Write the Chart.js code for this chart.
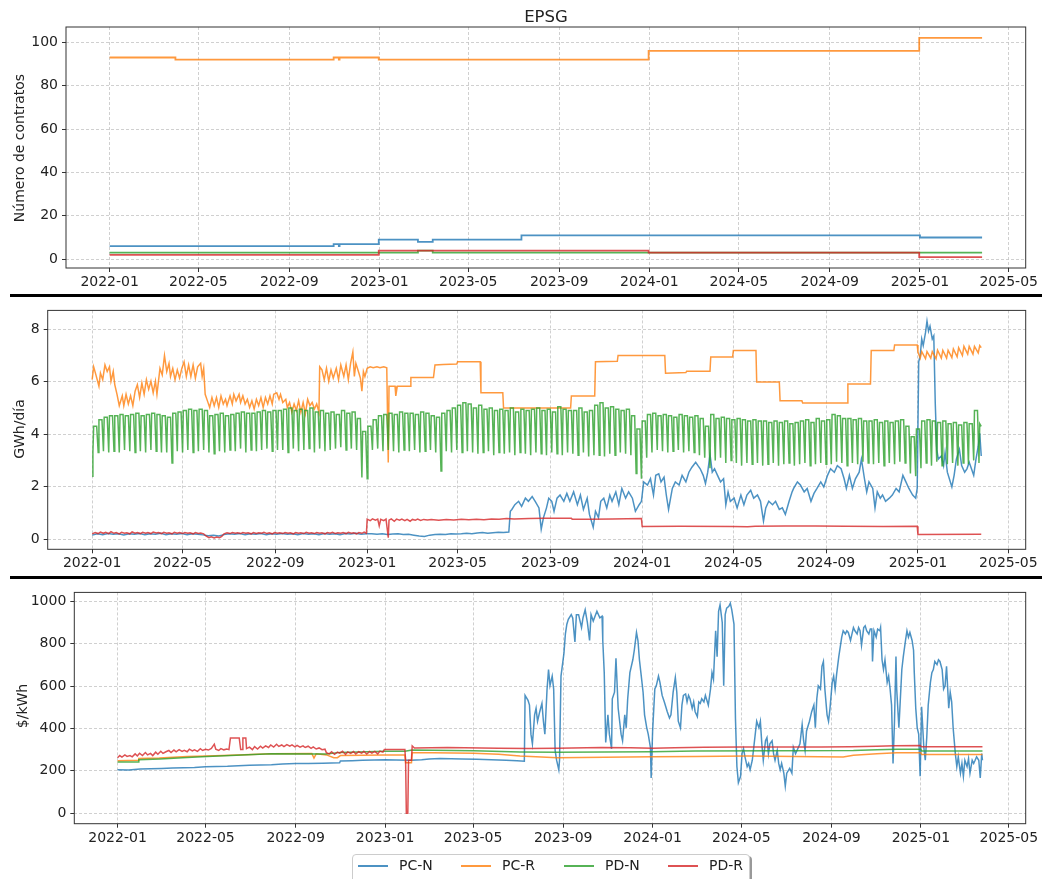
<!DOCTYPE html>
<html>
<head>
<meta charset="utf-8">
<script src="https://cdn.jsdelivr.net/npm/chart.js@4.4.1/dist/chart.umd.min.js"></script>
<style>
  body { margin: 0; background: #fff; font-family: 'DejaVu Sans', sans-serif; color: #222; }
  #hoja { position: relative; width: 1042px; height: 879px; overflow: hidden; }
  canvas { position: absolute; left: 0; }
  .sep { position: absolute; left: 10px; width: 1032px; height: 3px; background: #000; }
  .txt { position: absolute; white-space: nowrap; font-size: 14px; transform: translate(-50%, -50%); }
  .rot { transform: translate(-50%, -50%) rotate(-90deg); }
  #leyenda { position: absolute; left: 352px; top: 854px; width: 396px; height: 40px;
             border: 1px solid #ccc; border-radius: 4px; box-shadow: 2px 2px 0 #999; background: #fff; }
  .lin { position: absolute; height: 2px; width: 30px; }
</style>
</head>
<body>
<div id="hoja">
  <canvas id="g1" width="1042" height="290" style="top:0"></canvas>
  <canvas id="g2" width="1042" height="276" style="top:298px"></canvas>
  <canvas id="g3" width="1042" height="299" style="top:580px"></canvas>
  <div class="sep" style="top:294px"></div>
  <div class="sep" style="top:576px"></div>
  <div class="txt" style="left:546px;top:16px;font-size:16.5px">EPSG</div>
  <div class="txt rot" style="left:19px;top:148px">Número de contratos</div>
  <div class="txt rot" style="left:19px;top:429px">GWh/día</div>
  <div class="txt rot" style="left:22px;top:706px">$/kWh</div>
  <div id="leyenda"></div>
</div>
<script>
// x = días desde 2022-01-01
const diasTicks = [0, 120, 243, 365, 485, 608, 730, 851, 974, 1096, 1216];
const etiquetasTicks = ['2022-01', '2022-05', '2022-09', '2023-01', '2023-05', '2023-09',
  '2024-01', '2024-05', '2024-09', '2025-01', '2025-05'];
const series = ['PC-N', 'PC-R', 'PD-N', 'PD-R'];
const colores = ['31,119,180', '255,127,14', '44,160,44', '214,39,40'];

// Número de contratos (escalones)
const pcnContratos = [[0, 6], [303, 7], [310, 6], [311, 7], [364, 9], [417, 8], [437, 9], [557, 11], [1096, 10], [1180, 10]];
const pcrContratos = [[0, 93], [89, 92], [303, 93], [310, 92], [311, 93], [364, 92], [729, 96], [1095, 102], [1180, 102]];
const pdnContratos = [[0, 3], [417, 4], [437, 3], [1180, 3]];
const pdrContratos = [[0, 2], [364, 4], [729, 3], [1095, 1], [1180, 1]];

// Energía GWh/día
const pcnEnergia = [[0,0.15],[7,0.2],[14,0.17],[21,0.21],[28,0.18],[35,0.2],[42,0.16],[49,0.2],[56,0.18],[63,0.21],[70,0.17],[77,0.2],[84,0.18],[91,0.22],[98,0.17],[105,0.2],[112,0.18],[119,0.21],[126,0.17],[133,0.2],[140,0.18],[147,0.16],[154,0.13],[161,0.15],[168,0.12],[175,0.17],[182,0.2],[189,0.18],[196,0.21],[203,0.17],[210,0.2],[217,0.18],[224,0.21],[231,0.17],[238,0.2],[245,0.18],[252,0.21],[259,0.18],[266,0.2],[273,0.17],[280,0.21],[287,0.18],[294,0.2],[301,0.17],[308,0.21],[315,0.18],[322,0.2],[329,0.17],[336,0.21],[343,0.19],[350,0.22],[357,0.18],[364,0.2],[371,0.2],[378,0.18],[385,0.2],[392,0.17],[399,0.19],[406,0.2],[413,0.17],[420,0.18],[427,0.15],[434,0.12],[441,0.1],[448,0.15],[455,0.17],[462,0.18],[469,0.17],[476,0.2],[483,0.19],[490,0.2],[497,0.22],[504,0.2],[511,0.23],[518,0.25],[525,0.22],[532,0.24],[539,0.26],[546,0.25],[553,0.27],
  [555,1.06],[557,1.13],[561,1.31],[566,1.44],[570,1.25],[575,1.56],[579,1.44],[584,1.62],[588,1.44],[593,1.19],[596,0.38],[599,0.82],[603,1.19],[606,1.56],[610,1.44],[613,1.06],[617,1.56],[621,1.68],[626,1.44],[630,1.74],[634,1.44],[639,1.8],[644,1.31],[648,1.68],[652,1.13],[657,1.56],[660,0.94],[665,0.45],[668,1.06],[672,0.82],[675,1.44],[679,1.56],[683,1.19],[687,1.68],[690,1.44],[695,1.8],[699,1.31],[703,1.93],[708,1.56],[712,1.8],[717,1.56],[721,1.06],[726,1.31],[729,1.44],[732,2.18],[737,2.06],[741,2.3],[745,1.68],[748,2.43],[752,2.49],[755,2.18],[759,2.36],[762,1.68],[765,1.13],[770,1.93],[774,2.18],[779,2.06],[783,2.43],[788,2.18],[792,2.55],[796,2.74],[801,2.93],[804,2.8],[807,2.68],[811,2.43],[814,2.12],[817,2.55],[820,3.23],[823,2.55],[826,2.68],[830,2.43],[834,2.18],[838,2.3],[841,1.31],[844,1.8],[847,1.44],[852,1.56],[856,1.19],[861,1.68],[865,1.31],[869,1.68],[874,1.86],[878,1.56],[883,1.68],[887,1.44],[891,0.69],[894,1.19],[898,1.44],[903,1.31],[907,1.44],[912,1.13],[916,1.19],[920,0.94],[925,1.44],[929,1.8],[931,1.93],[936,2.18],[940,2.06],[945,1.8],[949,1.93],[954,1.44],[958,1.74],[962,1.93],[967,2.18],[971,1.99],[976,2.43],[980,2.68],[985,2.55],[989,2.8],[994,2.68],[998,2.3],[1001,1.93],[1005,2.43],[1009,1.93],[1013,2.3],[1018,2.55],[1021,3.05],[1025,2.3],[1028,1.8],[1031,2.18],[1036,1.93],[1039,1.19],[1042,1.8],[1046,1.56],[1049,1.68],[1053,1.44],[1058,1.56],[1062,1.68],[1067,1.93],[1071,1.8],[1076,2.43],[1080,2.18],[1084,1.93],[1089,1.68],[1093,1.56],[1095,1.93],[1097,6.76],[1099,7.0],[1101,7.63],[1103,7.38],[1106,7.87],[1108,8.31],[1110,7.93],[1112,8.12],[1115,7.63],[1117,7.75],[1119,5.15],[1121,3.42],[1123,3.05],[1127,3.17],[1130,2.8],[1132,3.3],[1135,2.55],[1139,2.18],[1141,1.99],[1144,2.43],[1147,3.05],[1151,3.42],[1154,2.8],[1158,2.55],[1161,2.68],[1164,2.93],[1167,2.68],[1170,2.43],[1173,3.05],[1176,3.54],[1178,4.03],[1180,3.17]];

const pcrEnergia = [[0,6.08],[2,6.57],[5,6.26],[9,5.83],[11,6.33],[14,6.08],[17,6.64],[20,6.39],[23,6.57],[25,6.02],[28,6.39],[30,5.89],[33,5.52],[36,5.09],[40,5.46],[42,5.09],[45,5.52],[48,5.15],[51,5.46],[54,5.09],[57,5.64],[60,5.89],[63,5.4],[66,5.95],[69,5.52],[72,6.08],[75,5.71],[78,6.02],[81,5.58],[84,6.02],[86,5.52],[90,6.51],[93,6.26],[96,7.0],[99,6.39],[102,6.7],[104,6.2],[107,6.51],[110,6.08],[113,6.45],[116,6.14],[119,6.51],[122,6.76],[125,6.2],[128,6.64],[131,6.2],[134,6.64],[137,6.14],[140,6.57],[144,6.7],[146,6.2],[148,6.51],[150,5.52],[153,5.27],[156,5.02],[159,5.4],[162,5.09],[165,5.4],[168,5.02],[171,5.46],[174,5.15],[177,5.33],[179,5.09],[183,5.46],[186,5.15],[188,5.52],[191,5.27],[195,5.52],[197,5.21],[200,5.46],[203,5.15],[206,5.33],[209,5.02],[212,5.27],[215,4.96],[218,5.33],[221,5.09],[224,5.4],[227,5.02],[230,5.4],[233,5.15],[236,5.46],[239,5.15],[241,5.52],[245,5.58],[248,5.33],[250,5.52],[253,5.21],[257,5.33],[259,5.02],[262,5.21],[265,4.84],[268,5.15],[271,4.9],[274,5.27],[277,4.84],[280,5.21],[283,4.78],[286,5.33],[289,5.09],[292,5.21],[295,4.96],[298,5.15],[301,4.84],[302,6.57],[305,6.45],[308,6.08],[311,6.51],[314,6.02],[317,6.45],[320,6.14],[324,6.51],[327,6.08],[330,6.64],[334,6.2],[337,6.64],[340,6.08],[343,6.7],[346,7.13],[348,6.2],[350,6.7],[354,6.33],[356,6.14],[358,5.64],[360,6.39],[362,6.2],[365,6.51],[369,6.57],[373,6.53],[378,6.57],[382,6.53],[387,6.57],[391,6.53],[393,2.92],[394,5.83],[402,5.83],[403,5.46],[405,5.83],[422,5.83],[423,6.16],[453,6.16],[455,6.64],[466,6.66],[484,6.68],[485,6.76],[515,6.76],[516,5.58],[545,5.58],[546,5.0],[635,5.0],[636,5.46],[667,5.46],[668,6.76],[697,6.78],[698,7.0],[760,7.0],[761,6.32],[788,6.35],[789,6.4],[820,6.4],[821,6.94],[850,6.94],[851,7.19],[881,7.19],[882,5.99],[912,5.99],[913,5.27],[942,5.27],[943,5.19],[1002,5.19],[1003,5.91],[1033,5.91],[1034,7.19],[1064,7.19],[1065,7.4],[1095,7.4],[1096,7.13],[1099,6.9],[1101,7.15],[1106,6.88],[1108,7.15],[1113,6.9],[1115,7.15],[1120,6.88],[1122,7.2],[1127,6.9],[1129,7.2],[1134,6.9],[1136,7.2],[1141,6.92],[1143,7.25],[1148,6.95],[1150,7.3],[1155,7.0],[1157,7.35],[1162,7.05],[1164,7.35],[1169,7.05],[1171,7.35],[1176,7.1],[1178,7.38],[1180,7.3]];

// PD-N: nivel de días hábiles y mínimo de fin de semana, por semana desde el lunes 2022-01-03
const pdnInicio = [[0, 2.4], [1, 3.3]];
const pdnAltos = [4.3,4.55,4.65,4.7, 4.7,4.75,4.7,4.75, 4.8,4.7,4.75,4.8,4.75, 4.7,4.65,4.8,4.85, 4.9,4.95,4.9,4.95,4.9,
  4.7,4.75,4.8,4.7, 4.75,4.8,4.85,4.8, 4.8,4.85,4.9,4.85,4.9, 4.9,4.95,5.0,4.9, 4.95,4.9,5.0,4.85, 4.9,4.8,4.85,4.75,4.9,
  4.8,4.85,4.6,4.1, 4.3,4.55,4.7,4.75, 4.8,4.75,4.85,4.8, 4.8,4.75,4.85,4.8,4.7, 4.65,4.8,4.9,5.0, 5.1,5.2,5.15,5.0,
  5.1,4.95,5.0,4.9,4.95, 4.9,5.0,4.85,4.95, 4.9,4.95,5.0,4.9, 4.95,4.85,5.05,4.95,4.9, 4.9,5.0,4.85,4.9, 5.1,5.2,5.0,5.05,4.95,
  4.9,4.95,4.7,4.2, 4.5,4.75,4.8,4.7, 4.75,4.7,4.65,4.75, 4.7,4.65,4.7,4.6,4.3, 4.75,4.6,4.65,4.6, 4.55,4.6,4.55,4.5,
  4.55,4.5,4.5,4.45,4.5, 4.45,4.5,4.4,4.45, 4.5,4.55,4.45,4.6,4.5, 4.55,4.75,4.7,4.6, 4.6,4.55,4.6,4.5, 4.5,4.55,4.45,4.5,4.45,
  4.5,4.55,4.3,3.9, 4.2,4.5,4.55,4.5, 4.45,4.5,4.4,4.45, 4.35,4.45,4.4,4.9];
const pdnBajos = [3.3,3.35,3.3,3.35, 3.3,3.4,3.35,3.3, 3.35,3.3,3.4,3.35,3.3, 3.3,2.9,3.35,3.3, 3.4,3.3,3.35,3.4,3.3,
  3.25,3.35,3.3,3.4, 3.35,3.45,3.3,3.4, 3.35,3.4,3.45,3.35,3.4, 3.4,3.3,3.45,3.35, 3.4,3.45,3.3,3.45, 3.35,3.4,3.45,3.5,3.4,
  3.45,3.4,2.35,2.3, 3.4,3.45,3.35,3.4, 3.35,3.3,3.4,3.35, 3.4,3.3,3.35,3.4,3.3, 2.6,3.35,3.3,3.4, 3.3,3.35,3.3,3.25,
  3.3,3.35,3.2,3.3,3.25, 3.3,3.2,3.3,3.25, 3.2,3.3,3.25,3.2, 3.3,3.25,3.2,3.3,3.25, 3.2,3.3,3.15,3.2, 3.2,3.15,3.25,3.2,3.3,
  3.25,3.2,2.5,2.3, 3.1,3.3,3.4,3.35, 3.3,3.35,3.4,3.3, 3.35,3.3,3.2,3.1,2.7, 3.0,3.1,2.9,3.0, 2.9,2.8,2.9,2.85,
  2.9,2.8,2.85,2.9,2.8, 2.85,2.9,2.8,2.85, 2.9,2.8,2.85,2.9,2.85, 2.85,2.95,2.9,2.8, 2.9,2.85,2.95,2.9, 2.85,2.9,2.8,2.9,2.85,
  2.95,2.9,2.5,2.4, 2.7,2.9,2.8,2.95, 2.8,2.85,2.9,2.8, 2.9,2.85,3.0,2.9];
const pdnFin = [[1178, 4.4], [1180, 4.3]];

const pdrEnergia = [[0,0.2],[4,0.25],[8,0.21],[11,0.27],[15,0.22],[18,0.26],[22,0.21],[25,0.28],[29,0.22],[32,0.25],[36,0.2],[39,0.26],[43,0.22],[46,0.24],[50,0.2],[53,0.27],[57,0.22],[60,0.25],[64,0.21],[67,0.26],[71,0.22],[74,0.25],[78,0.21],[81,0.27],[85,0.23],[88,0.25],[92,0.21],[95,0.26],[99,0.22],[102,0.24],[106,0.2],[109,0.26],[113,0.22],[116,0.25],[120,0.21],[123,0.25],[127,0.22],[130,0.24],[134,0.2],[137,0.25],[141,0.21],[144,0.23],[148,0.2],[151,0.12],[155,0.05],[158,0.09],[162,0.04],[165,0.08],[169,0.05],[172,0.1],[175,0.2],[179,0.24],[183,0.21],[186,0.25],[190,0.22],[193,0.24],[197,0.21],[200,0.25],[204,0.22],[207,0.24],[211,0.2],[214,0.25],[218,0.21],[221,0.24],[225,0.22],[228,0.26],[232,0.21],[235,0.24],[239,0.2],[242,0.25],[246,0.22],[249,0.24],[253,0.21],[256,0.25],[260,0.22],[263,0.24],[267,0.2],[270,0.25],[274,0.22],[277,0.24],[281,0.21],[284,0.26],[288,0.22],[291,0.24],[295,0.21],[298,0.25],[302,0.22],[305,0.24],[309,0.2],[312,0.25],[316,0.22],[319,0.26],[323,0.21],[326,0.24],[330,0.22],[333,0.25],[337,0.21],[340,0.26],[344,0.22],[347,0.24],[351,0.2],[354,0.25],[358,0.22],[361,0.27],[364,0.22],
  [365,0.76],[369,0.7],[372,0.77],[376,0.72],[379,0.76],[381,0.5],[383,0.75],[387,0.7],[390,0.76],[392,0.3],[393,0.05],[394,0.72],[397,0.77],[401,0.68],[404,0.76],[408,0.72],[411,0.76],[415,0.7],[418,0.75],[422,0.68],[425,0.75],[429,0.72],[432,0.76],[436,0.71],[440,0.75],[445,0.73],[450,0.75],[460,0.72],[470,0.75],[480,0.73],[490,0.76],[500,0.74],[510,0.76],[520,0.74],[530,0.77],[540,0.76],[550,0.78],[560,0.77],[580,0.78],[600,0.79],[620,0.79],[636,0.79],[637,0.76],[660,0.76],[690,0.77],[729,0.78],[730,0.48],[780,0.49],[850,0.48],[870,0.47],[880,0.49],[920,0.5],[960,0.5],[1000,0.49],[1050,0.48],[1095,0.49],[1096,0.17],[1180,0.18]];

// Precio $/kWh
const pcnPrecio = [[0,205],[15,204],[31,208],[45,210],[60,211],[75,213],[90,215],[105,216],[120,219],[135,220],[150,221],[165,224],[180,226],[195,228],[210,229],[225,232],[243,234],[260,235],[280,236],[303,238],[304,246],[320,248],[334,250],[350,251],[365,252],[380,251],[400,250],[415,252],[425,256],[440,258],[455,257],[470,256],[490,254],[510,252],[530,250],[545,248],[555,245],
  [556,556],[560,533],[562,510],[564,373],[566,327],[569,464],[571,495],[573,434],[576,479],[579,518],[581,434],[583,373],[586,586],[588,678],[590,602],[593,647],[595,586],[597,296],[599,250],[602,205],[603,250],[605,647],[609,754],[611,846],[613,892],[615,915],[619,937],[621,922],[624,808],[626,937],[629,937],[633,876],[635,922],[638,960],[641,900],[644,815],[646,937],[649,907],[654,953],[658,922],[661,930],[662,815],[664,663],[666,334],[669,464],[671,373],[674,304],[675,540],[678,571],[680,731],[683,495],[685,434],[687,373],[689,342],[692,464],[694,403],[696,540],[699,663],[703,724],[705,769],[708,853],[710,815],[712,724],[714,663],[717,571],[719,464],[722,403],[724,373],[727,311],[728,166],[730,388],[733,586],[735,601],[738,647],[740,617],[743,556],[746,525],[750,479],[753,449],[755,464],[758,571],[761,640],[763,571],[765,434],[768,403],[770,510],[772,556],[775,563],[777,525],[779,556],[781,540],[784,495],[786,525],[788,479],[791,456],[793,525],[795,518],[797,540],[800,525],[802,556],[804,533],[806,510],[809,586],[811,663],[813,632],[816,861],[818,739],[820,953],[822,983],[825,900],[827,601],[829,937],[831,968],[834,976],[836,991],[838,960],[841,892],[843,449],[845,220],[847,144],[850,174],[852,281],[854,304],[856,266],[859,220],[861,235],[863,205],[866,250],[868,311],[872,434],[875,403],[877,434],[879,327],[881,250],[884,342],[886,357],[888,281],[890,327],[893,342],[895,281],[897,250],[900,296],[902,235],[904,205],[906,235],[909,189],[911,128],[913,189],[917,212],[920,189],[922,311],[925,281],[927,296],[931,327],[934,418],[936,342],[938,296],[940,388],[944,434],[947,479],[950,510],[952,403],[954,540],[956,601],[959,586],[961,693],[963,716],[965,586],[968,464],[970,434],[972,495],[975,617],[977,647],[979,586],[981,655],[984,739],[986,785],[988,831],[990,861],[993,846],[995,861],[997,853],[1000,815],[1002,846],[1004,876],[1006,861],[1009,846],[1011,876],[1013,861],[1015,792],[1018,876],[1020,884],[1022,861],[1025,846],[1027,869],[1029,869],[1030,716],[1032,861],[1035,831],[1037,869],[1040,861],[1041,876],[1043,724],[1045,678],[1047,724],[1050,617],[1052,647],[1054,586],[1056,510],[1058,235],[1060,434],[1062,739],[1063,586],[1066,403],[1068,540],[1070,678],[1072,739],[1075,815],[1077,861],[1079,831],[1081,853],[1084,815],[1086,769],[1087,663],[1089,495],[1091,403],[1093,373],[1095,174],[1097,502],[1100,311],[1102,250],[1104,357],[1106,510],[1109,617],[1111,663],[1113,678],[1115,716],[1118,701],[1120,724],[1122,716],[1125,678],[1127,586],[1129,601],[1131,693],[1134,495],[1136,571],[1138,525],[1140,403],[1143,281],[1145,220],[1147,266],[1150,189],[1152,235],[1154,174],[1156,250],[1159,220],[1161,258],[1163,189],[1166,250],[1168,235],[1170,250],[1172,266],[1175,250],[1177,166],[1179,281],[1180,250]];
const pcrPrecio = [[0,248],[28,250],[29,258],[57,260],[95,268],[122,270],[154,273],[210,280],[265,282],[268,260],[271,280],[285,275],[295,262],[300,262],[304,272],[334,274],[364,275],[392,275],[393,238],[401,238],[402,285],[430,285],[486,283],[520,278],[549,270],[600,262],[730,266],[788,268],[860,270],[990,265],[1004,273],[1036,281],[1063,285],[1096,285],[1097,277],[1180,277]];
const pdnPrecio = [[0,241],[28,242],[29,252],[58,256],[95,263],[122,267],[154,272],[210,281],[285,279],[304,287],[365,292],[392,292],[402,298],[486,295],[549,289],[600,288],[729,290],[788,293],[1004,296],[1036,299],[1063,302],[1096,302],[1097,293],[1180,293]];
const pdrPrecio = [[0,262],[3,272],[6,265],[10,275],[13,268],[17,272],[20,266],[24,280],[27,270],[30,283],[34,272],[38,286],[41,275],[45,282],[48,272],[52,288],[55,278],[59,292],[62,282],[66,290],[70,296],[73,286],[77,298],[80,290],[84,300],[88,292],[91,297],[95,290],[98,302],[102,294],[105,299],[109,292],[113,304],[116,296],[120,302],[124,298],[128,306],[132,326],[134,302],[138,296],[141,305],[145,299],[149,303],[152,300],[154,355],[160,355],[166,355],[168,300],[170,300],[171,355],[175,355],[176,305],[180,312],[184,300],[187,314],[191,303],[195,316],[198,307],[202,318],[206,310],[209,322],[213,312],[217,325],[220,315],[224,322],[227,314],[231,324],[235,316],[238,322],[242,313],[245,320],[249,312],[253,318],[256,310],[260,316],[264,306],[267,313],[271,303],[275,308],[279,300],[283,302],[285,285],[289,280],[292,290],[296,278],[300,288],[303,283],[307,292],[311,277],[314,289],[318,282],[322,291],[325,279],[329,290],[333,283],[336,292],[340,279],[344,291],[347,284],[351,292],[355,280],[358,293],[362,288],[364,300],[392,300],[393,250],[394,0],[396,0],[397,250],[401,250],[402,318],[405,308],[450,310],[520,306],[560,305],[600,306],[660,310],[700,309],[730,307],[760,309],[800,311],[851,312],[900,312],[960,312],[1000,313],[1036,316],[1060,318],[1095,320],[1097,313],[1180,313]];

function semanal(inicio, altos, bajos, fin) {
  const pts = inicio.slice();
  altos.forEach((a, w) => {
    const lunes = 2 + 7 * w;
    pts.push([lunes, a], [lunes + 4, a], [lunes + 6, bajos[w]]);
  });
  return pts.concat(fin);
}

const marco = {
  id: 'marco',
  afterDraw(c) {
    const a = c.chartArea, ctx = c.ctx;
    ctx.save();
    ctx.strokeStyle = '#333';
    ctx.lineWidth = 1;
    ctx.strokeRect(a.left, a.top, a.right - a.left, a.bottom - a.top);
    ctx.restore();
  }
};

function linea(i, pts, extra) {
  return Object.assign({
    label: series[i],
    data: pts.map(p => ({ x: p[0], y: p[1] })),
    borderColor: 'rgba(' + colores[i] + ',0.8)',
    borderWidth: 1.5,
    pointRadius: 0,
    tension: 0,
    order: 4 - i
  }, extra || {});
}

function panel(id, datasets, y, caja) {
  new Chart(document.getElementById(id), {
    type: 'line',
    data: { datasets: datasets },
    plugins: [marco],
    options: {
      responsive: false,
      animation: false,
      layout: { padding: { top: caja.top, right: caja.right, left: 0, bottom: 0 } },
      plugins: { legend: { display: false }, tooltip: { enabled: false } },
      scales: {
        x: {
          type: 'linear', min: -59, max: 1239,
          afterBuildTicks: s => { s.ticks = diasTicks.map(v => ({ value: v })); },
          afterFit: s => { s.height = caja.xh; },
          ticks: {
            autoSkip: false, maxRotation: 0, padding: 2, color: '#222',
            font: { family: 'DejaVu Sans', size: 14 },
            callback: v => etiquetasTicks[diasTicks.indexOf(v)]
          },
          grid: { color: '#c4c4c4', lineWidth: 0.8, tickLength: 4, tickColor: '#333', tickWidth: 1 },
          border: { display: false, dash: [3, 2] }
        },
        y: {
          min: y.min, max: y.max,
          afterBuildTicks: s => { s.ticks = y.ticks.map(v => ({ value: v })); },
          afterFit: s => { s.width = caja.left; },
          ticks: { padding: 4, color: '#222', font: { family: 'DejaVu Sans', size: 14 }, callback: v => String(v) },
          grid: { color: '#c4c4c4', lineWidth: 0.8, tickLength: 4, tickColor: '#333', tickWidth: 1 },
          border: { display: false, dash: [3, 2] }
        }
      }
    }
  });
}

const escalon = { stepped: true, borderWidth: 1.8 };
panel('g1', [
  linea(0, pcnContratos, escalon), linea(1, pcrContratos, escalon),
  linea(2, pdnContratos, escalon), linea(3, pdrContratos, escalon)
], { min: -4.05, max: 107.05, ticks: [0, 20, 40, 60, 80, 100] },
   { top: 27, right: 16.3, left: 66, xh: 22 });

panel('g2', [
  linea(0, pcnEnergia), linea(1, pcrEnergia),
  linea(2, semanal(pdnInicio, pdnAltos, pdnBajos, pdnFin)), linea(3, pdrEnergia)
], { min: -0.39, max: 8.72, ticks: [0, 2, 4, 6, 8] },
   { top: 6, right: 16.3, left: 47.7, xh: 24.7 });

panel('g3', [
  linea(0, pcnPrecio), linea(1, pcrPrecio), linea(2, pdnPrecio), linea(3, pdrPrecio)
], { min: -49.6, max: 1042, ticks: [0, 200, 400, 600, 800, 1000] },
   { top: 5.3, right: 16.3, left: 74.3, xh: 55.3 });

// leyenda
const ley = document.getElementById('leyenda');
const posLinea = [5, 108, 211, 315];
series.forEach((s, i) => {
  const l = document.createElement('div');
  l.className = 'lin';
  l.style.left = posLinea[i] + 'px';
  l.style.top = '10px';
  l.style.background = 'rgba(' + colores[i] + ',0.8)';
  ley.appendChild(l);
  const t = document.createElement('div');
  t.textContent = s;
  t.style.cssText = 'position:absolute;top:2px;font-size:14px;left:' + (posLinea[i] + 41) + 'px';
  ley.appendChild(t);
});
</script>
</body>
</html>
